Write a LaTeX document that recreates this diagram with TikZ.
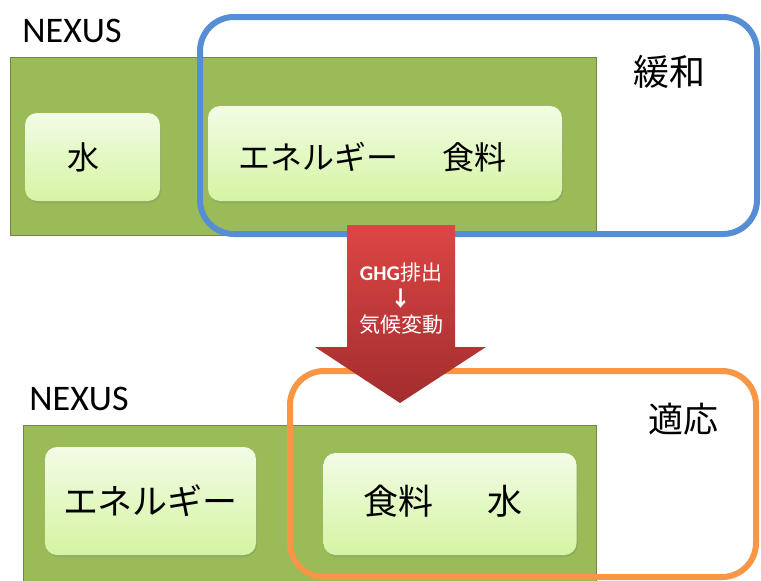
\documentclass[tikz,border=0pt]{standalone}
\usepackage{fontspec}
\setmainfont{Carlito}
\newfontfamily\jp{Noto Sans CJK JP}
\newfontfamily\lat{Carlito}
\usetikzlibrary{shadows}
\definecolor{nexgreen}{HTML}{9BBB59}
\definecolor{nexborder}{HTML}{71893F}
\definecolor{mitblue}{HTML}{558ED5}
\definecolor{adaorange}{HTML}{F79646}
\definecolor{boxtop}{HTML}{F2FCE6}
\definecolor{boxbot}{HTML}{D5F4A2}
\definecolor{arrtop}{HTML}{DD4545}
\definecolor{arrbot}{HTML}{A22D2D}
\tikzset{
  greenpanel/.style={fill=nexgreen, draw=nexborder, line width=1pt},
  zone/.style={line width=6pt, rounded corners=34pt},
  innerbox/.style={rounded corners=12pt, top color=boxtop, bottom color=boxbot,
    draw=none, inner sep=0pt,
    drop shadow={opacity=0.3, shadow xshift=1pt, shadow yshift=-2pt}},
  jptext/.style={inner sep=0pt, anchor=center, text=black},
}
\begin{document}
\begin{tikzpicture}[x=1pt,y=-1pt]
\useasboundingbox (0,0) rectangle (761,581);
% ---------- top part ----------
\draw[greenpanel] (10,57) rectangle (596,235);
\node[innerbox, minimum width=135pt, minimum height=88pt] (waterbox) at (92.5,157) {};
\node[innerbox, minimum width=354pt, minimum height=95pt] (enfoodbox) at (385,153.5) {};
\node[jptext, font=\jp\fontsize{32}{38}\selectfont] (watertext) at (83,157) {水};
\node[jptext, font=\jp\fontsize{32}{38}\selectfont] (enfoodtext) at (372.5,157) {エネルギー\hspace{45pt}食料};
\draw[zone, draw=mitblue] (200,17) rectangle (757,234);
\node[jptext, font=\lat\fontsize{36}{40}\selectfont] (nexustop) at (72,31) {NEXUS};
\node[jptext, font=\jp\fontsize{36}{40}\selectfont] (mit) at (669,72) {緩和};
% ---------- bottom part ----------
\draw[greenpanel] (23,425) rectangle (596,582);
\node[innerbox, minimum width=211pt, minimum height=108pt] (energybox) at (150.5,501) {};
\node[innerbox, minimum width=253pt, minimum height=102pt] (foodwaterbox) at (450,504) {};
\node[jptext, font=\jp\fontsize{35}{40}\selectfont] (energytext) at (150.5,501) {エネルギー};
\node[jptext, font=\jp\fontsize{35}{40}\selectfont] (foodwatertext) at (443,501) {食料\hspace{55pt}水};
\draw[zone, draw=adaorange] (290,371) rectangle (756,577);
\node[jptext, font=\lat\fontsize{36}{40}\selectfont] (nexusbot) at (79,399) {NEXUS};
\node[jptext, font=\jp\fontsize{35}{40}\selectfont] (ada) at (683,419) {適応};
% ---------- arrow ----------
\path[top color=arrtop, bottom color=arrbot, draw=none]
  (347,225) -- (455,225) -- (455,347) -- (486,347) -- (400,403) -- (315,347) -- (347,347) -- cycle;
\node[inner sep=0pt, text=white, align=center, font=\jp\fontsize{21}{26}\selectfont] (arrowtext) at (401,299)
  {{\lat\bfseries GHG}排出\\{\bfseries ↓}\\気候変動};
\end{tikzpicture}
\end{document}
